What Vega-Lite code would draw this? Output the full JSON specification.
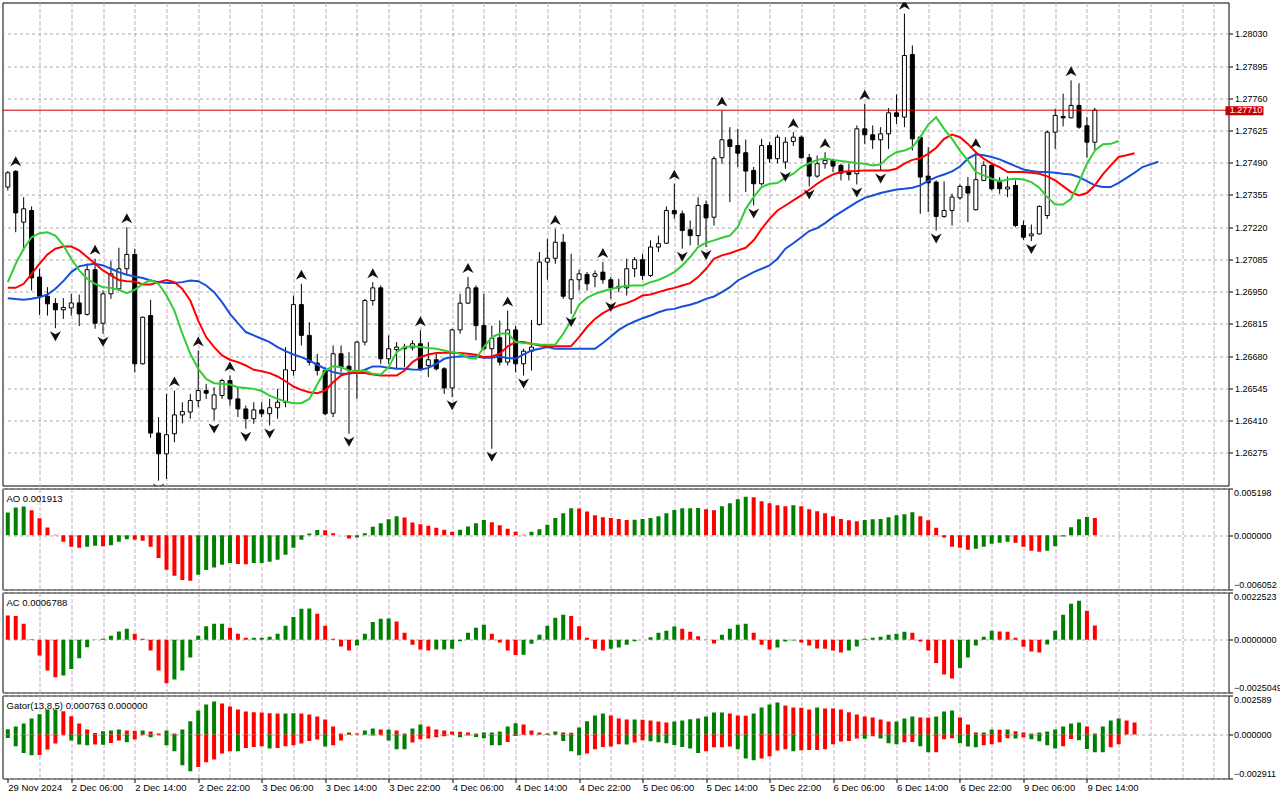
{
  "$schema": "https://vega.github.io/schema/vega-lite/v6.json",
  "background": "white",
  "padding": {"left": 1.5, "top": 1.5, "right": 0, "bottom": 0},
  "spacing": 3,
  "bounds": "flush",
  "datasets": {
    "bars": [
      {"i":0,"o":1.27388,"h":1.27455,"l":1.27374,"c":1.27448,"lips":1.26990,"teeth":1.26966,"jaw":1.26923,"ao":0.002516,"aot":"up","ac":0.001161,"act":"down","gu":0.000354,"gut":"up","gl":-0.000221,"glt":"up"},
      {"i":1,"o":1.27454,"h":1.27459,"l":1.27199,"c":1.27280,"lips":1.27067,"teeth":1.26966,"jaw":1.26919,"ao":0.003071,"aot":"up","ac":0.001129,"act":"down","gu":0.000530,"gut":"up","gl":-0.000774,"glt":"up","fu":1.27459},
      {"i":2,"o":1.27241,"h":1.27346,"l":1.27120,"c":1.27297,"lips":1.27130,"teeth":1.26983,"jaw":1.26916,"ao":0.003182,"aot":"up","ac":0.000763,"act":"down","gu":0.000729,"gut":"up","gl":-0.001216,"glt":"up"},
      {"i":3,"o":1.27290,"h":1.27307,"l":1.26955,"c":1.27008,"lips":1.27178,"teeth":1.27025,"jaw":1.26920,"ao":0.002775,"aot":"down","ac":0.000032,"act":"down","gu":0.001061,"gut":"up","gl":-0.001370,"glt":"up"},
      {"i":4,"o":1.27011,"h":1.27046,"l":1.26853,"c":1.26931,"lips":1.27195,"teeth":1.27067,"jaw":1.26927,"ao":0.001887,"aot":"down","ac":-0.000747,"act":"down","gu":0.001348,"gut":"up","gl":-0.001360,"glt":"down"},
      {"i":5,"o":1.26931,"h":1.26969,"l":1.26850,"c":1.26899,"lips":1.27199,"teeth":1.27106,"jaw":1.26938,"ao":0.000851,"aot":"down","ac":-0.001463,"act":"down","gu":0.001658,"gut":"up","gl":-0.000995,"glt":"down"},
      {"i":6,"o":1.26901,"h":1.26923,"l":1.26797,"c":1.26874,"lips":1.27185,"teeth":1.27130,"jaw":1.26962,"ao":0.000037,"aot":"down","ac":-0.001781,"act":"down","gu":0.001665,"gut":"up","gl":-0.000597,"glt":"down","fd":1.26797},
      {"i":7,"o":1.26874,"h":1.26923,"l":1.26836,"c":1.26884,"lips":1.27144,"teeth":1.27139,"jaw":1.26994,"ao":-0.000740,"aot":"down","ac":-0.001701,"act":"up","gu":0.001547,"gut":"down","gl":-0.000044,"glt":"down"},
      {"i":8,"o":1.26882,"h":1.26941,"l":1.26850,"c":1.26903,"lips":1.27088,"teeth":1.27139,"jaw":1.27032,"ao":-0.001295,"aot":"down","ac":-0.001383,"act":"up","gu":0.001216,"gut":"down","gl":-0.000398,"glt":"up"},
      {"i":9,"o":1.26903,"h":1.26938,"l":1.26806,"c":1.26857,"lips":1.27039,"teeth":1.27123,"jaw":1.27056,"ao":-0.001406,"aot":"down","ac":-0.000875,"act":"up","gu":0.000729,"gut":"down","gl":-0.000663,"glt":"up"},
      {"i":10,"o":1.26855,"h":1.27067,"l":1.26850,"c":1.27042,"lips":1.27004,"teeth":1.27095,"jaw":1.27063,"ao":-0.001295,"aot":"up","ac":-0.000350,"act":"up","gu":0.000332,"gut":"down","gl":-0.000707,"glt":"up"},
      {"i":11,"o":1.27042,"h":1.27088,"l":1.26795,"c":1.26818,"lips":1.26983,"teeth":1.27067,"jaw":1.27067,"ao":-0.001184,"aot":"up","ac":0.000020,"act":"up","gu":0.000111,"gut":"down","gl":-0.000663,"glt":"down","fu":1.27088},
      {"i":12,"o":1.26818,"h":1.26955,"l":1.26774,"c":1.26941,"lips":1.26969,"teeth":1.27039,"jaw":1.27060,"ao":-0.001221,"aot":"down","ac":0.000048,"act":"up","gu":0.000221,"gut":"up","gl":-0.000670,"glt":"up","fd":1.26774},
      {"i":13,"o":1.26941,"h":1.27078,"l":1.26920,"c":1.27025,"lips":1.26966,"teeth":1.27018,"jaw":1.27046,"ao":-0.001110,"aot":"up","ac":0.000191,"act":"up","gu":0.000265,"gut":"up","gl":-0.000553,"glt":"down"},
      {"i":14,"o":1.26962,"h":1.27134,"l":1.26955,"c":1.27046,"lips":1.26958,"teeth":1.26999,"jaw":1.27032,"ao":-0.000740,"aot":"up","ac":0.000398,"act":"up","gu":0.000332,"gut":"up","gl":-0.000398,"glt":"down"},
      {"i":15,"o":1.27046,"h":1.27220,"l":1.27022,"c":1.27106,"lips":1.26944,"teeth":1.26994,"jaw":1.27021,"ao":-0.000444,"aot":"up","ac":0.000525,"act":"up","gu":0.000265,"gut":"down","gl":-0.000508,"glt":"up","fu":1.27220},
      {"i":16,"o":1.27106,"h":1.27130,"l":1.26613,"c":1.26648,"lips":1.26958,"teeth":1.26993,"jaw":1.27014,"ao":-0.000518,"aot":"down","ac":0.000286,"act":"down","gu":0.000260,"gut":"down","gl":-0.000332,"glt":"down"},
      {"i":17,"o":1.26648,"h":1.26846,"l":1.26645,"c":1.26843,"lips":1.26983,"teeth":1.26980,"jaw":1.27007,"ao":-0.000629,"aot":"down","ac":0.000048,"act":"down","gu":0.000270,"gut":"up","gl":-0.000044,"glt":"down"},
      {"i":18,"o":1.26850,"h":1.26916,"l":1.26338,"c":1.26358,"lips":1.26999,"teeth":1.26980,"jaw":1.26997,"ao":-0.001295,"aot":"down","ac":-0.000509,"act":"down","gu":0.000199,"gut":"down","gl":-0.000177,"glt":"up"},
      {"i":19,"o":1.26358,"h":1.26425,"l":1.26159,"c":1.26271,"lips":1.26983,"teeth":1.26990,"jaw":1.26990,"ao":-0.002553,"aot":"down","ac":-0.001463,"act":"down","gu":0.000066,"gut":"down","gl":-0.000044,"glt":"down","fd":1.26159},
      {"i":20,"o":1.26271,"h":1.26522,"l":1.26166,"c":1.26351,"lips":1.26934,"teeth":1.26999,"jaw":1.26986,"ao":-0.003848,"aot":"down","ac":-0.002067,"act":"down","gu":0.000265,"gut":"up","gl":-0.000707,"glt":"up"},
      {"i":21,"o":1.26355,"h":1.26536,"l":1.26320,"c":1.26434,"lips":1.26871,"teeth":1.26990,"jaw":1.26986,"ao":-0.004514,"aot":"down","ac":-0.001892,"act":"up","gu":0.000066,"gut":"down","gl":-0.001105,"glt":"up","fu":1.26536},
      {"i":22,"o":1.26434,"h":1.26487,"l":1.26399,"c":1.26448,"lips":1.26774,"teeth":1.26962,"jaw":1.26990,"ao":-0.004995,"aot":"down","ac":-0.001463,"act":"up","gu":0.000332,"gut":"up","gl":-0.002033,"glt":"up"},
      {"i":23,"o":1.26446,"h":1.26522,"l":1.26418,"c":1.26494,"lips":1.26690,"teeth":1.26913,"jaw":1.26997,"ao":-0.005069,"aot":"down","ac":-0.000843,"act":"up","gu":0.000884,"gut":"up","gl":-0.002431,"glt":"up"},
      {"i":24,"o":1.26494,"h":1.26704,"l":1.26466,"c":1.26536,"lips":1.26627,"teeth":1.26829,"jaw":1.26994,"ao":-0.004403,"aot":"up","ac":0.000191,"act":"up","gu":0.001591,"gut":"up","gl":-0.002144,"glt":"down","fu":1.26704},
      {"i":25,"o":1.26536,"h":1.26564,"l":1.26501,"c":1.26525,"lips":1.26585,"teeth":1.26760,"jaw":1.26976,"ao":-0.003885,"aot":"up","ac":0.000652,"act":"up","gu":0.001989,"gut":"up","gl":-0.001834,"glt":"down"},
      {"i":26,"o":1.26459,"h":1.26550,"l":1.26411,"c":1.26518,"lips":1.26567,"teeth":1.26718,"jaw":1.26948,"ao":-0.003589,"aot":"up","ac":0.000763,"act":"up","gu":0.002188,"gut":"up","gl":-0.001658,"glt":"down","fd":1.26411},
      {"i":27,"o":1.26515,"h":1.26585,"l":1.26501,"c":1.26578,"lips":1.26564,"teeth":1.26683,"jaw":1.26906,"ao":-0.003293,"aot":"up","ac":0.000770,"act":"up","gu":0.002055,"gut":"down","gl":-0.001260,"glt":"down"},
      {"i":28,"o":1.26578,"h":1.26599,"l":1.26473,"c":1.26501,"lips":1.26561,"teeth":1.26665,"jaw":1.26857,"ao":-0.003108,"aot":"up","ac":0.000572,"act":"down","gu":0.001856,"gut":"down","gl":-0.001105,"glt":"down","fu":1.26599},
      {"i":29,"o":1.26501,"h":1.26550,"l":1.26425,"c":1.26459,"lips":1.26550,"teeth":1.26655,"jaw":1.26818,"ao":-0.003219,"aot":"down","ac":0.000286,"act":"down","gu":0.001658,"gut":"down","gl":-0.001110,"glt":"up"},
      {"i":30,"o":1.26459,"h":1.26473,"l":1.26376,"c":1.26418,"lips":1.26547,"teeth":1.26641,"jaw":1.26781,"ao":-0.003230,"aot":"down","ac":0.000095,"act":"down","gu":0.001525,"gut":"down","gl":-0.000884,"glt":"down","fd":1.26376},
      {"i":31,"o":1.26418,"h":1.26487,"l":1.26397,"c":1.26455,"lips":1.26543,"teeth":1.26623,"jaw":1.26767,"ao":-0.003108,"aot":"up","ac":0.000100,"act":"up","gu":0.001481,"gut":"down","gl":-0.000818,"glt":"down"},
      {"i":32,"o":1.26455,"h":1.26487,"l":1.26425,"c":1.26439,"lips":1.26534,"teeth":1.26617,"jaw":1.26753,"ao":-0.003100,"aot":"up","ac":0.000105,"act":"up","gu":0.001459,"gut":"down","gl":-0.000774,"glt":"down"},
      {"i":33,"o":1.26439,"h":1.26501,"l":1.26390,"c":1.26464,"lips":1.26515,"teeth":1.26609,"jaw":1.26739,"ao":-0.002960,"aot":"up","ac":0.000143,"act":"up","gu":0.001414,"gut":"down","gl":-0.000928,"glt":"up","fd":1.26390},
      {"i":34,"o":1.26464,"h":1.26543,"l":1.26418,"c":1.26487,"lips":1.26501,"teeth":1.26595,"jaw":1.26718,"ao":-0.002738,"aot":"up","ac":0.000286,"act":"up","gu":0.001392,"gut":"down","gl":-0.000884,"glt":"down"},
      {"i":35,"o":1.26487,"h":1.26718,"l":1.26466,"c":1.26623,"lips":1.26490,"teeth":1.26575,"jaw":1.26701,"ao":-0.002183,"aot":"up","ac":0.000668,"act":"up","gu":0.001400,"gut":"up","gl":-0.000774,"glt":"down"},
      {"i":36,"o":1.26620,"h":1.26934,"l":1.26599,"c":1.26896,"lips":1.26483,"teeth":1.26553,"jaw":1.26687,"ao":-0.001406,"aot":"up","ac":0.001081,"act":"up","gu":0.001405,"gut":"up","gl":-0.000707,"glt":"down"},
      {"i":37,"o":1.26896,"h":1.26983,"l":1.26725,"c":1.26767,"lips":1.26483,"teeth":1.26539,"jaw":1.26676,"ao":-0.000518,"aot":"up","ac":0.001479,"act":"up","gu":0.001395,"gut":"down","gl":-0.000597,"glt":"down","fu":1.26983},
      {"i":38,"o":1.26767,"h":1.26822,"l":1.26641,"c":1.26655,"lips":1.26501,"teeth":1.26529,"jaw":1.26662,"ao":0.000185,"aot":"up","ac":0.001490,"act":"up","gu":0.001326,"gut":"down","gl":-0.000420,"glt":"down"},
      {"i":39,"o":1.26651,"h":1.26690,"l":1.26599,"c":1.26620,"lips":1.26561,"teeth":1.26525,"jaw":1.26644,"ao":0.000570,"aot":"up","ac":0.001240,"act":"down","gu":0.001193,"gut":"down","gl":-0.000332,"glt":"down"},
      {"i":40,"o":1.26620,"h":1.26634,"l":1.26432,"c":1.26439,"lips":1.26620,"teeth":1.26536,"jaw":1.26627,"ao":0.000540,"aot":"down","ac":0.000668,"act":"down","gu":0.000995,"gut":"down","gl":-0.000796,"glt":"up"},
      {"i":41,"o":1.26441,"h":1.26725,"l":1.26425,"c":1.26690,"lips":1.26638,"teeth":1.26571,"jaw":1.26613,"ao":0.000222,"aot":"down","ac":0.000048,"act":"down","gu":0.000530,"gut":"down","gl":-0.000707,"glt":"down"},
      {"i":42,"o":1.26690,"h":1.26725,"l":1.26613,"c":1.26634,"lips":1.26634,"teeth":1.26599,"jaw":1.26606,"ao":-0.000020,"aot":"down","ac":-0.000318,"act":"down","gu":0.000066,"gut":"down","gl":-0.000398,"glt":"down"},
      {"i":43,"o":1.26638,"h":1.26697,"l":1.26355,"c":1.26620,"lips":1.26620,"teeth":1.26609,"jaw":1.26606,"ao":-0.000370,"aot":"down","ac":-0.000509,"act":"down","gu":0.000133,"gut":"up","gl":-0.000022,"glt":"down","fd":1.26355},
      {"i":44,"o":1.26620,"h":1.26743,"l":1.26501,"c":1.26739,"lips":1.26617,"teeth":1.26609,"jaw":1.26613,"ao":-0.000259,"aot":"up","ac":-0.000270,"act":"up","gu":0.000066,"gut":"down","gl":-0.000010,"glt":"down"},
      {"i":45,"o":1.26739,"h":1.26920,"l":1.26725,"c":1.26913,"lips":1.26620,"teeth":1.26609,"jaw":1.26623,"ao":0.000222,"aot":"up","ac":0.000286,"act":"up","gu":0.000265,"gut":"up","gl":-0.000022,"glt":"up"},
      {"i":46,"o":1.26913,"h":1.26990,"l":1.26892,"c":1.26966,"lips":1.26606,"teeth":1.26603,"jaw":1.26637,"ao":0.000925,"aot":"up","ac":0.000843,"act":"up","gu":0.000398,"gut":"up","gl":-0.000066,"glt":"up","fu":1.26990},
      {"i":47,"o":1.26966,"h":1.26976,"l":1.26648,"c":1.26669,"lips":1.26603,"teeth":1.26599,"jaw":1.26637,"ao":0.001332,"aot":"up","ac":0.001002,"act":"up","gu":0.000332,"gut":"down","gl":-0.000044,"glt":"down"},
      {"i":48,"o":1.26669,"h":1.26767,"l":1.26648,"c":1.26711,"lips":1.26634,"teeth":1.26599,"jaw":1.26631,"ao":0.001776,"aot":"up","ac":0.001010,"act":"up","gu":0.000340,"gut":"up","gl":-0.000398,"glt":"up"},
      {"i":49,"o":1.26707,"h":1.26739,"l":1.26627,"c":1.26718,"lips":1.26697,"teeth":1.26599,"jaw":1.26627,"ao":0.002109,"aot":"up","ac":0.000875,"act":"down","gu":0.000265,"gut":"down","gl":-0.000972,"glt":"up"},
      {"i":50,"o":1.26718,"h":1.26732,"l":1.26634,"c":1.26711,"lips":1.26718,"teeth":1.26620,"jaw":1.26627,"ao":0.001961,"aot":"down","ac":0.000334,"act":"down","gu":0.000066,"gut":"down","gl":-0.000980,"glt":"up"},
      {"i":51,"o":1.26715,"h":1.26746,"l":1.26704,"c":1.26732,"lips":1.26721,"teeth":1.26655,"jaw":1.26624,"ao":0.001406,"aot":"down","ac":-0.000239,"act":"down","gu":0.000398,"gut":"up","gl":-0.000530,"glt":"down"},
      {"i":52,"o":1.26732,"h":1.26788,"l":1.26620,"c":1.26627,"lips":1.26718,"teeth":1.26676,"jaw":1.26623,"ao":0.001221,"aot":"down","ac":-0.000461,"act":"down","gu":0.000663,"gut":"up","gl":-0.000309,"glt":"down","fu":1.26788},
      {"i":53,"o":1.26641,"h":1.26739,"l":1.26592,"c":1.26665,"lips":1.26714,"teeth":1.26687,"jaw":1.26631,"ao":0.001036,"aot":"down","ac":-0.000509,"act":"down","gu":0.000530,"gut":"down","gl":-0.000265,"glt":"down"},
      {"i":54,"o":1.26665,"h":1.26690,"l":1.26620,"c":1.26627,"lips":1.26711,"teeth":1.26693,"jaw":1.26648,"ao":0.000814,"aot":"down","ac":-0.000461,"act":"up","gu":0.000332,"gut":"down","gl":-0.000177,"glt":"down"},
      {"i":55,"o":1.26627,"h":1.26634,"l":1.26522,"c":1.26547,"lips":1.26704,"teeth":1.26694,"jaw":1.26669,"ao":0.000592,"aot":"down","ac":-0.000455,"act":"up","gu":0.000265,"gut":"down","gl":-0.000110,"glt":"down"},
      {"i":56,"o":1.26547,"h":1.26795,"l":1.26508,"c":1.26790,"lips":1.26697,"teeth":1.26694,"jaw":1.26676,"ao":0.000370,"aot":"down","ac":-0.000429,"act":"up","gu":0.000199,"gut":"down","gl":-0.000010,"glt":"down","fd":1.26508},
      {"i":57,"o":1.26790,"h":1.26941,"l":1.26774,"c":1.26902,"lips":1.26690,"teeth":1.26693,"jaw":1.26679,"ao":0.000592,"aot":"up","ac":-0.000064,"act":"up","gu":0.000190,"gut":"down","gl":-0.000177,"glt":"up"},
      {"i":58,"o":1.26902,"h":1.27011,"l":1.26899,"c":1.26966,"lips":1.26673,"teeth":1.26690,"jaw":1.26679,"ao":0.000962,"aot":"up","ac":0.000334,"act":"up","gu":0.000133,"gut":"down","gl":-0.000066,"glt":"down","fu":1.27011},
      {"i":59,"o":1.26966,"h":1.26976,"l":1.26746,"c":1.26808,"lips":1.26669,"teeth":1.26686,"jaw":1.26679,"ao":0.001332,"aot":"up","ac":0.000572,"act":"up","gu":0.000066,"gut":"down","gl":-0.000155,"glt":"up"},
      {"i":60,"o":1.26808,"h":1.26941,"l":1.26704,"c":1.26711,"lips":1.26718,"teeth":1.26676,"jaw":1.26673,"ao":0.001702,"aot":"up","ac":0.000716,"act":"up","gu":0.000133,"gut":"up","gl":-0.000243,"glt":"up"},
      {"i":61,"o":1.26711,"h":1.26808,"l":1.26292,"c":1.26755,"lips":1.26760,"teeth":1.26679,"jaw":1.26673,"ao":0.001443,"aot":"down","ac":0.000286,"act":"down","gu":0.000140,"gut":"up","gl":-0.000707,"glt":"up","fd":1.26292},
      {"i":62,"o":1.26757,"h":1.26829,"l":1.26641,"c":1.26655,"lips":1.26774,"teeth":1.26690,"jaw":1.26679,"ao":0.001110,"aot":"down","ac":-0.000127,"act":"down","gu":0.000199,"gut":"up","gl":-0.000715,"glt":"up"},
      {"i":63,"o":1.26655,"h":1.26871,"l":1.26641,"c":1.26790,"lips":1.26776,"teeth":1.26721,"jaw":1.26672,"ao":0.000703,"aot":"down","ac":-0.000509,"act":"down","gu":0.000530,"gut":"up","gl":-0.000486,"glt":"down","fu":1.26871},
      {"i":64,"o":1.26790,"h":1.26808,"l":1.26613,"c":1.26648,"lips":1.26739,"teeth":1.26739,"jaw":1.26669,"ao":0.000370,"aot":"down","ac":-0.000716,"act":"down","gu":0.000751,"gut":"up","gl":-0.000088,"glt":"down"},
      {"i":65,"o":1.26648,"h":1.26711,"l":1.26599,"c":1.26701,"lips":1.26735,"teeth":1.26739,"jaw":1.26687,"ao":0.000037,"aot":"down","ac":-0.000710,"act":"up","gu":0.000663,"gut":"down","gl":-0.000022,"glt":"down","fd":1.26599},
      {"i":66,"o":1.26701,"h":1.26832,"l":1.26620,"c":1.26718,"lips":1.26732,"teeth":1.26732,"jaw":1.26704,"ao":0.000370,"aot":"up","ac":-0.000191,"act":"up","gu":0.000265,"gut":"down","gl":-0.000005,"glt":"down"},
      {"i":67,"o":1.26813,"h":1.27116,"l":1.26808,"c":1.27074,"lips":1.26729,"teeth":1.26725,"jaw":1.26711,"ao":0.000666,"aot":"up","ac":0.000239,"act":"up","gu":0.000133,"gut":"down","gl":-0.000008,"glt":"up"},
      {"i":68,"o":1.27074,"h":1.27171,"l":1.27000,"c":1.27090,"lips":1.26728,"teeth":1.26722,"jaw":1.26718,"ao":0.001147,"aot":"up","ac":0.000668,"act":"up","gu":0.000066,"gut":"down","gl":-0.000022,"glt":"up"},
      {"i":69,"o":1.27090,"h":1.27213,"l":1.27067,"c":1.27157,"lips":1.26728,"teeth":1.26721,"jaw":1.26711,"ao":0.001924,"aot":"up","ac":0.001049,"act":"up","gu":0.000199,"gut":"up","gl":-0.000010,"glt":"down","fu":1.27213},
      {"i":70,"o":1.27157,"h":1.27192,"l":1.26920,"c":1.26931,"lips":1.26774,"teeth":1.26721,"jaw":1.26711,"ao":0.002442,"aot":"up","ac":0.001193,"act":"up","gu":0.000133,"gut":"down","gl":-0.000420,"glt":"up"},
      {"i":71,"o":1.26920,"h":1.27109,"l":1.26857,"c":1.27000,"lips":1.26829,"teeth":1.26722,"jaw":1.26711,"ao":0.002997,"aot":"up","ac":0.001129,"act":"down","gu":0.000125,"gut":"down","gl":-0.001105,"glt":"up","fd":1.26857},
      {"i":72,"o":1.27000,"h":1.27042,"l":1.26955,"c":1.27025,"lips":1.26896,"teeth":1.26760,"jaw":1.26711,"ao":0.002970,"aot":"down","ac":0.000652,"act":"down","gu":0.000464,"gut":"up","gl":-0.001370,"glt":"up"},
      {"i":73,"o":1.27022,"h":1.27032,"l":1.26955,"c":1.26983,"lips":1.26924,"teeth":1.26802,"jaw":1.26711,"ao":0.002627,"aot":"down","ac":0.000095,"act":"down","gu":0.000884,"gut":"up","gl":-0.001260,"glt":"down"},
      {"i":74,"o":1.27014,"h":1.27039,"l":1.26969,"c":1.27025,"lips":1.26941,"teeth":1.26836,"jaw":1.26711,"ao":0.002220,"aot":"down","ac":-0.000429,"act":"down","gu":0.001260,"gut":"up","gl":-0.000972,"glt":"down"},
      {"i":75,"o":1.27032,"h":1.27074,"l":1.26983,"c":1.27000,"lips":1.26952,"teeth":1.26860,"jaw":1.26735,"ao":0.001998,"aot":"down","ac":-0.000509,"act":"down","gu":0.001392,"gut":"up","gl":-0.000818,"glt":"down","fu":1.27074},
      {"i":76,"o":1.27000,"h":1.27011,"l":1.26920,"c":1.26966,"lips":1.26961,"teeth":1.26878,"jaw":1.26762,"ao":0.001924,"aot":"down","ac":-0.000429,"act":"up","gu":0.001260,"gut":"down","gl":-0.000796,"glt":"down","fd":1.26920},
      {"i":77,"o":1.26972,"h":1.27004,"l":1.26948,"c":1.26966,"lips":1.26969,"teeth":1.26892,"jaw":1.26790,"ao":0.001813,"aot":"down","ac":-0.000366,"act":"up","gu":0.001061,"gut":"down","gl":-0.000641,"glt":"down"},
      {"i":78,"o":1.26966,"h":1.27088,"l":1.26934,"c":1.27046,"lips":1.26975,"teeth":1.26902,"jaw":1.26810,"ao":0.001702,"aot":"down","ac":-0.000239,"act":"up","gu":0.000995,"gut":"down","gl":-0.000650,"glt":"up"},
      {"i":79,"o":1.27046,"h":1.27095,"l":1.27011,"c":1.27084,"lips":1.26976,"teeth":1.26916,"jaw":1.26825,"ao":0.001720,"aot":"up","ac":-0.000064,"act":"up","gu":0.001000,"gut":"up","gl":-0.000530,"glt":"down"},
      {"i":80,"o":1.27084,"h":1.27109,"l":1.27000,"c":1.27018,"lips":1.26976,"teeth":1.26934,"jaw":1.26839,"ao":0.001813,"aot":"up","ac":0.000010,"act":"up","gu":0.000990,"gut":"down","gl":-0.000376,"glt":"down"},
      {"i":81,"o":1.27018,"h":1.27165,"l":1.27011,"c":1.27137,"lips":1.26990,"teeth":1.26938,"jaw":1.26850,"ao":0.001924,"aot":"up","ac":0.000127,"act":"up","gu":0.000928,"gut":"down","gl":-0.000442,"glt":"up"},
      {"i":82,"o":1.27137,"h":1.27185,"l":1.27116,"c":1.27151,"lips":1.26999,"teeth":1.26948,"jaw":1.26864,"ao":0.002109,"aot":"up","ac":0.000334,"act":"up","gu":0.000862,"gut":"down","gl":-0.000508,"glt":"up"},
      {"i":83,"o":1.27153,"h":1.27307,"l":1.27151,"c":1.27290,"lips":1.27014,"teeth":1.26958,"jaw":1.26874,"ao":0.002442,"aot":"up","ac":0.000429,"act":"up","gu":0.000796,"gut":"down","gl":-0.000575,"glt":"up"},
      {"i":84,"o":1.27290,"h":1.27402,"l":1.27255,"c":1.27276,"lips":1.27032,"teeth":1.26966,"jaw":1.26878,"ao":0.002812,"aot":"up","ac":0.000636,"act":"up","gu":0.000862,"gut":"up","gl":-0.000685,"glt":"up","fu":1.27402},
      {"i":85,"o":1.27276,"h":1.27290,"l":1.27130,"c":1.27206,"lips":1.27060,"teeth":1.26976,"jaw":1.26888,"ao":0.002997,"aot":"up","ac":0.000525,"act":"down","gu":0.000928,"gut":"up","gl":-0.000818,"glt":"up","fd":1.27130},
      {"i":86,"o":1.27209,"h":1.27248,"l":1.27144,"c":1.27185,"lips":1.27095,"teeth":1.26986,"jaw":1.26895,"ao":0.003010,"aot":"up","ac":0.000382,"act":"down","gu":0.001017,"gut":"up","gl":-0.000928,"glt":"up"},
      {"i":87,"o":1.27185,"h":1.27346,"l":1.27144,"c":1.27311,"lips":1.27137,"teeth":1.27011,"jaw":1.26906,"ao":0.003020,"aot":"up","ac":0.000175,"act":"down","gu":0.001061,"gut":"up","gl":-0.001216,"glt":"up"},
      {"i":88,"o":1.27315,"h":1.27332,"l":1.27137,"c":1.27259,"lips":1.27155,"teeth":1.27046,"jaw":1.26920,"ao":0.002886,"aot":"down","ac":-0.000010,"act":"down","gu":0.001193,"gut":"up","gl":-0.001105,"glt":"down","fd":1.27137},
      {"i":89,"o":1.27262,"h":1.27517,"l":1.27227,"c":1.27507,"lips":1.27165,"teeth":1.27088,"jaw":1.26930,"ao":0.002775,"aot":"down","ac":-0.000175,"act":"down","gu":0.001459,"gut":"up","gl":-0.000840,"glt":"down"},
      {"i":90,"o":1.27511,"h":1.27709,"l":1.27486,"c":1.27586,"lips":1.27176,"teeth":1.27102,"jaw":1.26948,"ao":0.003219,"aot":"up","ac":0.000239,"act":"up","gu":0.001465,"gut":"up","gl":-0.000835,"glt":"down","fu":1.27709},
      {"i":91,"o":1.27586,"h":1.27639,"l":1.27325,"c":1.27558,"lips":1.27185,"teeth":1.27111,"jaw":1.26969,"ao":0.003552,"aot":"up","ac":0.000525,"act":"up","gu":0.001392,"gut":"down","gl":-0.000796,"glt":"down"},
      {"i":92,"o":1.27562,"h":1.27632,"l":1.27472,"c":1.27530,"lips":1.27220,"teeth":1.27123,"jaw":1.26997,"ao":0.003996,"aot":"up","ac":0.000716,"act":"up","gu":0.001260,"gut":"down","gl":-0.000972,"glt":"up"},
      {"i":93,"o":1.27532,"h":1.27587,"l":1.27367,"c":1.27455,"lips":1.27297,"teeth":1.27134,"jaw":1.27014,"ao":0.004292,"aot":"up","ac":0.000763,"act":"up","gu":0.001255,"gut":"down","gl":-0.001591,"glt":"up"},
      {"i":94,"o":1.27458,"h":1.27472,"l":1.27311,"c":1.27402,"lips":1.27346,"teeth":1.27165,"jaw":1.27032,"ao":0.004218,"aot":"down","ac":0.000334,"act":"down","gu":0.001392,"gut":"up","gl":-0.001702,"glt":"up","fd":1.27311},
      {"i":95,"o":1.27402,"h":1.27590,"l":1.27395,"c":1.27562,"lips":1.27388,"teeth":1.27213,"jaw":1.27046,"ao":0.003774,"aot":"down","ac":-0.000239,"act":"down","gu":0.001790,"gut":"up","gl":-0.001591,"glt":"down"},
      {"i":96,"o":1.27562,"h":1.27576,"l":1.27490,"c":1.27507,"lips":1.27402,"teeth":1.27255,"jaw":1.27060,"ao":0.003552,"aot":"down","ac":-0.000461,"act":"down","gu":0.001989,"gut":"up","gl":-0.001437,"glt":"down"},
      {"i":97,"o":1.27507,"h":1.27607,"l":1.27488,"c":1.27597,"lips":1.27405,"teeth":1.27290,"jaw":1.27088,"ao":0.003330,"aot":"down","ac":-0.000366,"act":"up","gu":0.002122,"gut":"up","gl":-0.001061,"glt":"down"},
      {"i":98,"o":1.27493,"h":1.27597,"l":1.27465,"c":1.27576,"lips":1.27427,"teeth":1.27311,"jaw":1.27130,"ao":0.003219,"aot":"down","ac":-0.000080,"act":"up","gu":0.001923,"gut":"down","gl":-0.000972,"glt":"down","fd":1.27465},
      {"i":99,"o":1.27579,"h":1.27618,"l":1.27560,"c":1.27597,"lips":1.27444,"teeth":1.27332,"jaw":1.27153,"ao":0.003330,"aot":"up","ac":-0.000032,"act":"up","gu":0.001790,"gut":"down","gl":-0.001105,"glt":"up","fu":1.27618},
      {"i":100,"o":1.27597,"h":1.27604,"l":1.27507,"c":1.27511,"lips":1.27472,"teeth":1.27353,"jaw":1.27178,"ao":0.003219,"aot":"down","ac":-0.000127,"act":"down","gu":0.001785,"gut":"down","gl":-0.001039,"glt":"down"},
      {"i":101,"o":1.27511,"h":1.27527,"l":1.27391,"c":1.27434,"lips":1.27488,"teeth":1.27377,"jaw":1.27204,"ao":0.002886,"aot":"down","ac":-0.000270,"act":"down","gu":0.001658,"gut":"down","gl":-0.001030,"glt":"down","fd":1.27391},
      {"i":102,"o":1.27434,"h":1.27520,"l":1.27427,"c":1.27486,"lips":1.27502,"teeth":1.27402,"jaw":1.27216,"ao":0.002664,"aot":"down","ac":-0.000413,"act":"down","gu":0.001790,"gut":"up","gl":-0.001017,"glt":"down"},
      {"i":103,"o":1.27486,"h":1.27534,"l":1.27465,"c":1.27500,"lips":1.27507,"teeth":1.27423,"jaw":1.27237,"ao":0.002442,"aot":"down","ac":-0.000420,"act":"down","gu":0.001724,"gut":"down","gl":-0.000972,"glt":"down","fu":1.27534},
      {"i":104,"o":1.27500,"h":1.27507,"l":1.27451,"c":1.27476,"lips":1.27502,"teeth":1.27441,"jaw":1.27262,"ao":0.002109,"aot":"down","ac":-0.000509,"act":"down","gu":0.001720,"gut":"down","gl":-0.000641,"glt":"down"},
      {"i":105,"o":1.27479,"h":1.27486,"l":1.27416,"c":1.27446,"lips":1.27497,"teeth":1.27451,"jaw":1.27283,"ao":0.001813,"aot":"down","ac":-0.000604,"act":"down","gu":0.001658,"gut":"down","gl":-0.000464,"glt":"down"},
      {"i":106,"o":1.27451,"h":1.27486,"l":1.27416,"c":1.27441,"lips":1.27493,"teeth":1.27454,"jaw":1.27304,"ao":0.001665,"aot":"down","ac":-0.000509,"act":"up","gu":0.001481,"gut":"down","gl":-0.000420,"glt":"down"},
      {"i":107,"o":1.27444,"h":1.27646,"l":1.27399,"c":1.27632,"lips":1.27488,"teeth":1.27455,"jaw":1.27325,"ao":0.001554,"aot":"down","ac":-0.000318,"act":"up","gu":0.001326,"gut":"down","gl":-0.000265,"glt":"down","fd":1.27399},
      {"i":108,"o":1.27632,"h":1.27737,"l":1.27569,"c":1.27607,"lips":1.27486,"teeth":1.27458,"jaw":1.27343,"ao":0.001702,"aot":"up","ac":0.000048,"act":"up","gu":0.001193,"gut":"down","gl":-0.000270,"glt":"up","fu":1.27737},
      {"i":109,"o":1.27607,"h":1.27646,"l":1.27548,"c":1.27586,"lips":1.27479,"teeth":1.27458,"jaw":1.27353,"ao":0.001776,"aot":"up","ac":0.000095,"act":"up","gu":0.001127,"gut":"down","gl":-0.000110,"glt":"down"},
      {"i":110,"o":1.27586,"h":1.27639,"l":1.27458,"c":1.27611,"lips":1.27483,"teeth":1.27458,"jaw":1.27363,"ao":0.001790,"aot":"up","ac":0.000143,"act":"up","gu":0.000995,"gut":"down","gl":-0.000265,"glt":"up","fd":1.27458},
      {"i":111,"o":1.27611,"h":1.27719,"l":1.27548,"c":1.27699,"lips":1.27514,"teeth":1.27458,"jaw":1.27371,"ao":0.001998,"aot":"up","ac":0.000239,"act":"up","gu":0.000862,"gut":"down","gl":-0.000575,"glt":"up"},
      {"i":112,"o":1.27699,"h":1.27775,"l":1.27653,"c":1.27684,"lips":1.27534,"teeth":1.27465,"jaw":1.27378,"ao":0.002220,"aot":"up","ac":0.000286,"act":"up","gu":0.000870,"gut":"up","gl":-0.000641,"glt":"up"},
      {"i":113,"o":1.27681,"h":1.28114,"l":1.27639,"c":1.27939,"lips":1.27541,"teeth":1.27486,"jaw":1.27381,"ao":0.002331,"aot":"up","ac":0.000382,"act":"up","gu":0.001061,"gut":"up","gl":-0.000508,"glt":"down","fu":1.28114},
      {"i":114,"o":1.27943,"h":1.27981,"l":1.27541,"c":1.27590,"lips":1.27555,"teeth":1.27502,"jaw":1.27385,"ao":0.002553,"aot":"up","ac":0.000334,"act":"down","gu":0.001193,"gut":"up","gl":-0.000500,"glt":"down"},
      {"i":115,"o":1.27597,"h":1.27604,"l":1.27276,"c":1.27430,"lips":1.27597,"teeth":1.27509,"jaw":1.27395,"ao":0.002109,"aot":"down","ac":-0.000080,"act":"down","gu":0.001127,"gut":"down","gl":-0.000774,"glt":"up"},
      {"i":116,"o":1.27434,"h":1.27555,"l":1.27283,"c":1.27406,"lips":1.27650,"teeth":1.27527,"jaw":1.27414,"ao":0.001665,"aot":"down","ac":-0.000509,"act":"down","gu":0.001120,"gut":"down","gl":-0.001171,"glt":"up"},
      {"i":117,"o":1.27409,"h":1.27416,"l":1.27206,"c":1.27265,"lips":1.27680,"teeth":1.27553,"jaw":1.27430,"ao":0.000814,"aot":"down","ac":-0.001097,"act":"down","gu":0.001193,"gut":"up","gl":-0.001165,"glt":"down","fd":1.27206},
      {"i":118,"o":1.27265,"h":1.27412,"l":1.27259,"c":1.27290,"lips":1.27632,"teeth":1.27590,"jaw":1.27441,"ao":-0.000259,"aot":"down","ac":-0.001654,"act":"down","gu":0.001525,"gut":"up","gl":-0.000309,"glt":"down"},
      {"i":119,"o":1.27290,"h":1.27360,"l":1.27227,"c":1.27346,"lips":1.27590,"teeth":1.27608,"jaw":1.27454,"ao":-0.001295,"aot":"down","ac":-0.001844,"act":"down","gu":0.001591,"gut":"up","gl":-0.000243,"glt":"down"},
      {"i":120,"o":1.27343,"h":1.27399,"l":1.27335,"c":1.27391,"lips":1.27541,"teeth":1.27597,"jaw":1.27474,"ao":-0.001406,"aot":"down","ac":-0.001336,"act":"up","gu":0.001127,"gut":"down","gl":-0.000575,"glt":"up"},
      {"i":121,"o":1.27391,"h":1.27430,"l":1.27241,"c":1.27363,"lips":1.27500,"teeth":1.27569,"jaw":1.27507,"ao":-0.001628,"aot":"down","ac":-0.000843,"act":"up","gu":0.000663,"gut":"down","gl":-0.000796,"glt":"up"},
      {"i":122,"o":1.27293,"h":1.27534,"l":1.27290,"c":1.27419,"lips":1.27451,"teeth":1.27534,"jaw":1.27525,"ao":-0.001517,"aot":"up","ac":-0.000270,"act":"up","gu":0.000133,"gut":"down","gl":-0.000840,"glt":"up","fu":1.27534},
      {"i":123,"o":1.27416,"h":1.27497,"l":1.27413,"c":1.27479,"lips":1.27437,"teeth":1.27507,"jaw":1.27521,"ao":-0.001295,"aot":"up","ac":0.000143,"act":"up","gu":0.000140,"gut":"up","gl":-0.000707,"glt":"down"},
      {"i":124,"o":1.27479,"h":1.27488,"l":1.27374,"c":1.27381,"lips":1.27423,"teeth":1.27486,"jaw":1.27514,"ao":-0.000962,"aot":"up","ac":0.000429,"act":"up","gu":0.000332,"gut":"up","gl":-0.000641,"glt":"down"},
      {"i":125,"o":1.27416,"h":1.27430,"l":1.27360,"c":1.27381,"lips":1.27412,"teeth":1.27472,"jaw":1.27504,"ao":-0.000851,"aot":"up","ac":0.000398,"act":"down","gu":0.000325,"gut":"down","gl":-0.000508,"glt":"down"},
      {"i":126,"o":1.27380,"h":1.27432,"l":1.27346,"c":1.27388,"lips":1.27420,"teeth":1.27451,"jaw":1.27490,"ao":-0.000740,"aot":"up","ac":0.000390,"act":"down","gu":0.000335,"gut":"up","gl":-0.000243,"glt":"down"},
      {"i":127,"o":1.27395,"h":1.27416,"l":1.27220,"c":1.27227,"lips":1.27423,"teeth":1.27451,"jaw":1.27476,"ao":-0.000851,"aot":"down","ac":0.000095,"act":"down","gu":0.000221,"gut":"down","gl":-0.000265,"glt":"up"},
      {"i":128,"o":1.27227,"h":1.27248,"l":1.27167,"c":1.27178,"lips":1.27420,"teeth":1.27451,"jaw":1.27462,"ao":-0.001295,"aot":"down","ac":-0.000334,"act":"down","gu":0.000133,"gut":"down","gl":-0.000199,"glt":"down"},
      {"i":129,"o":1.27184,"h":1.27231,"l":1.27162,"c":1.27192,"lips":1.27409,"teeth":1.27448,"jaw":1.27455,"ao":-0.001739,"aot":"down","ac":-0.000557,"act":"down","gu":0.000066,"gut":"down","gl":-0.000309,"glt":"up","fd":1.27162},
      {"i":130,"o":1.27192,"h":1.27311,"l":1.27189,"c":1.27307,"lips":1.27385,"teeth":1.27444,"jaw":1.27451,"ao":-0.001850,"aot":"down","ac":-0.000604,"act":"down","gu":0.000133,"gut":"up","gl":-0.000442,"glt":"up"},
      {"i":131,"o":1.27269,"h":1.27625,"l":1.27255,"c":1.27618,"lips":1.27346,"teeth":1.27433,"jaw":1.27451,"ao":-0.001739,"aot":"up","ac":-0.000223,"act":"up","gu":0.000199,"gut":"up","gl":-0.000707,"glt":"up"},
      {"i":132,"o":1.27618,"h":1.27716,"l":1.27548,"c":1.27688,"lips":1.27315,"teeth":1.27416,"jaw":1.27448,"ao":-0.001221,"aot":"up","ac":0.000429,"act":"up","gu":0.000332,"gut":"up","gl":-0.000928,"glt":"up"},
      {"i":133,"o":1.27684,"h":1.27779,"l":1.27642,"c":1.27678,"lips":1.27315,"teeth":1.27392,"jaw":1.27444,"ao":-0.000148,"aot":"up","ac":0.001193,"act":"up","gu":0.000530,"gut":"up","gl":-0.000774,"glt":"down"},
      {"i":134,"o":1.27678,"h":1.27835,"l":1.27677,"c":1.27730,"lips":1.27339,"teeth":1.27367,"jaw":1.27441,"ao":0.000888,"aot":"up","ac":0.001717,"act":"up","gu":0.000729,"gut":"up","gl":-0.000287,"glt":"down","fu":1.27835},
      {"i":135,"o":1.27730,"h":1.27823,"l":1.27632,"c":1.27639,"lips":1.27409,"teeth":1.27353,"jaw":1.27430,"ao":0.001776,"aot":"up","ac":0.001860,"act":"up","gu":0.000796,"gut":"up","gl":-0.000376,"glt":"up"},
      {"i":136,"o":1.27645,"h":1.27681,"l":1.27511,"c":1.27576,"lips":1.27486,"teeth":1.27363,"jaw":1.27413,"ao":0.002020,"aot":"up","ac":0.001383,"act":"down","gu":0.000530,"gut":"down","gl":-0.000950,"glt":"up"},
      {"i":137,"o":1.27576,"h":1.27720,"l":1.27539,"c":1.27710,"lips":1.27541,"teeth":1.27395,"jaw":1.27395,"ao":0.001913,"aot":"down","ac":0.000679,"act":"down","gu":0.000066,"gut":"down","gl":-0.001171,"glt":"up"},
      {"i":138,"lips":1.27567,"teeth":1.27441,"jaw":1.27388,"gu":0.000530,"gut":"up","gl":-0.001178,"glt":"up"},
      {"i":139,"lips":1.27569,"teeth":1.27479,"jaw":1.27388,"gu":0.000928,"gut":"up","gl":-0.000840,"glt":"down"},
      {"i":140,"lips":1.27581,"teeth":1.27514,"jaw":1.27406,"gu":0.001061,"gut":"up","gl":-0.000641,"glt":"down"},
      {"i":141,"teeth":1.27521,"jaw":1.27427,"gu":0.000928,"gut":"down"},
      {"i":142,"teeth":1.27530,"jaw":1.27448,"gu":0.000796,"gut":"down"},
      {"i":143,"jaw":1.27472},
      {"i":144,"jaw":1.27483},
      {"i":145,"jaw":1.27494}
    ]
  },
  "vconcat": [
    {
      "width": 1226,
      "height": 483,
      "data": {"name": "bars"},
      "layer": [
        {
          "transform": [{"filter": "isValid(datum.o)"}],
          "mark": {"type": "rule", "color": "black", "strokeWidth": 1, "clip": true},
          "encoding": {
            "x": {"field": "i", "type": "quantitative", "title": null,
                  "scale": {"domain": [-0.0375, 153.2125], "nice": false, "zero": false},
                  "axis": {"values": [4,8,12,16,20,24,28,32,36,40,44,48,52,56,60,64,68,72,76,80,84,88,92,96,100,104,108,112,116,120,124,128,132,136,140,144,148,152], "tickCount": 60, "grid": true, "labels": false, "ticks": false, "domain": false}},
            "y": {"field": "l", "type": "quantitative", "title": null,
                  "scale": {"domain": [1.261384, 1.28161], "nice": false, "zero": false},
                  "axis": {"orient": "right", "values": [1.2803, 1.27895, 1.2776, 1.27625, 1.2749, 1.27355, 1.2722, 1.27085, 1.2695, 1.26815, 1.2668, 1.26545, 1.2641, 1.26275], "tickCount": 30, "format": ".5f", "grid": true, "tickSize": 4, "labelPadding": 2, "labelOverlap": false, "labelFlush": false, "domain": false}},
            "y2": {"field": "h"}
          }
        },
        {
          "transform": [{"filter": "isValid(datum.o)"}],
          "mark": {"type": "bar", "orient": "vertical", "size": 4, "stroke": "black", "strokeWidth": 1, "clip": true},
          "encoding": {
            "x": {"field": "i", "type": "quantitative", "title": null},
            "y": {"field": "o", "type": "quantitative", "title": null},
            "y2": {"field": "c"},
            "fill": {"condition": {"test": "datum.c >= datum.o", "value": "white"}, "value": "black"}
          }
        },
        {
          "transform": [{"filter": "isValid(datum.jaw)"}],
          "mark": {"type": "line", "color": "#1450d8", "strokeWidth": 2, "clip": true},
          "encoding": {
            "x": {"field": "i", "type": "quantitative", "title": null},
            "y": {"field": "jaw", "type": "quantitative", "title": null}
          }
        },
        {
          "transform": [{"filter": "isValid(datum.teeth)"}],
          "mark": {"type": "line", "color": "#ff0000", "strokeWidth": 2, "clip": true},
          "encoding": {
            "x": {"field": "i", "type": "quantitative", "title": null},
            "y": {"field": "teeth", "type": "quantitative", "title": null}
          }
        },
        {
          "transform": [{"filter": "isValid(datum.lips)"}],
          "mark": {"type": "line", "color": "#32cd32", "strokeWidth": 2, "clip": true},
          "encoding": {
            "x": {"field": "i", "type": "quantitative", "title": null},
            "y": {"field": "lips", "type": "quantitative", "title": null}
          }
        },
        {
          "transform": [{"filter": "isValid(datum.fu)"}],
          "mark": {"type": "point", "shape": "M0,-2.8L1.1,-0.8L0,-1.4L-1.1,-0.8Z", "filled": true, "size": 100, "color": "#111111", "opacity": 1, "clip": true},
          "encoding": {
            "x": {"field": "i", "type": "quantitative", "title": null},
            "y": {"field": "fu", "type": "quantitative", "title": null}
          }
        },
        {
          "transform": [{"filter": "isValid(datum.fd)"}],
          "mark": {"type": "point", "shape": "M0,2.6L1.1,0.6L0,1.2L-1.1,0.6Z", "filled": true, "size": 100, "color": "#111111", "opacity": 1, "clip": true},
          "encoding": {
            "x": {"field": "i", "type": "quantitative", "title": null},
            "y": {"field": "fd", "type": "quantitative", "title": null}
          }
        },
        {
          "data": {"values": [{"price": 1.2771}]},
          "mark": {"type": "rule", "color": "#c80000", "strokeWidth": 1},
          "encoding": {
            "y": {"field": "price", "type": "quantitative", "title": null}
          }
        },
        {
          "data": {"values": [{"price": 1.2771}]},
          "mark": {"type": "rect", "color": "#c80000"},
          "encoding": {
            "x": {"datum": 153.46},
            "x2": {"datum": 158.25},
            "y": {"datum": 1.27727},
            "y2": {"datum": 1.27689}
          }
        },
        {
          "data": {"values": [{"price": 1.2771}]},
          "mark": {"type": "text", "color": "white", "align": "left", "baseline": "middle", "font": "Liberation Sans", "fontSize": 9},
          "encoding": {
            "x": {"datum": 154.0},
            "y": {"field": "price", "type": "quantitative", "title": null},
            "text": {"field": "price", "type": "quantitative", "format": ".5f"}
          }
        }
      ]
    },
    {
      "width": 1226,
      "height": 101,
      "title": {"text": "AO 0.001913"},
      "data": {"name": "bars"},
      "transform": [{"filter": "isValid(datum.ao)"}],
      "mark": {"type": "bar", "orient": "vertical", "size": 4, "clip": true},
      "encoding": {
        "x": {"field": "i", "type": "quantitative", "title": null,
              "scale": {"domain": [-0.0375, 153.2125], "nice": false, "zero": false},
              "axis": {"values": [4,8,12,16,20,24,28,32,36,40,44,48,52,56,60,64,68,72,76,80,84,88,92,96,100,104,108,112,116,120,124,128,132,136,140,144,148,152], "tickCount": 60, "grid": true, "labels": false, "ticks": false, "domain": false}},
        "y": {"field": "ao", "type": "quantitative", "title": null,
              "scale": {"domain": [-0.006052, 0.005198], "nice": false, "zero": false},
              "axis": {"orient": "right", "values": [0.005198, 0, -0.006052], "tickCount": 10, "format": ".6f", "labelFlush": true, "labelOverlap": false, "grid": true, "tickSize": 4, "labelPadding": 1, "domain": false}},
        "y2": {"datum": 0},
        "color": {"field": "aot", "type": "nominal", "scale": {"domain": ["up", "down"], "range": ["#008000", "#ff0000"]}, "legend": null}
      }
    },
    {
      "width": 1226,
      "height": 100,
      "title": {"text": "AC 0.0006788"},
      "data": {"name": "bars"},
      "transform": [{"filter": "isValid(datum.ac)"}],
      "mark": {"type": "bar", "orient": "vertical", "size": 4, "clip": true},
      "encoding": {
        "x": {"field": "i", "type": "quantitative", "title": null,
              "scale": {"domain": [-0.0375, 153.2125], "nice": false, "zero": false},
              "axis": {"values": [4,8,12,16,20,24,28,32,36,40,44,48,52,56,60,64,68,72,76,80,84,88,92,96,100,104,108,112,116,120,124,128,132,136,140,144,148,152], "tickCount": 60, "grid": true, "labels": false, "ticks": false, "domain": false}},
        "y": {"field": "ac", "type": "quantitative", "title": null,
              "scale": {"domain": [-0.0025049, 0.0022523], "nice": false, "zero": false},
              "axis": {"orient": "right", "values": [0.0022523, 0, -0.0025049], "tickCount": 10, "format": ".7f", "labelFlush": true, "labelOverlap": false, "grid": true, "tickSize": 4, "labelPadding": 1, "domain": false}},
        "y2": {"datum": 0},
        "color": {"field": "act", "type": "nominal", "scale": {"domain": ["up", "down"], "range": ["#008000", "#ff0000"]}, "legend": null}
      }
    },
    {
      "width": 1226,
      "height": 83,
      "title": {"text": "Gator(13,8,5) 0.000763 0.000000"},
      "data": {"name": "bars"},
      "encoding": {
        "x": {"field": "i", "type": "quantitative", "title": null,
              "scale": {"domain": [-0.0375, 153.2125], "nice": false, "zero": false},
              "axis": {
                "values": [0,4,8,12,16,20,24,28,32,36,40,44,48,52,56,60,64,68,72,76,80,84,88,92,96,100,104,108,112,116,120,124,128,132,136,140,144,148,152],
                "tickCount": 60,
                "grid": true, "domain": false, "tickSize": 4, "labelPadding": 0, "labelFontSize": 9.5,
                "labelAlign": "left", "labelBaseline": "top", "labelFlush": false, "labelOverlap": false, "labelBound": false,
                "gridOpacity": {"condition": {"test": "datum.value === 0", "value": 0}, "value": 1},
                "tickOpacity": {"condition": {"test": "datum.value % 8 !== 0 || datum.value > 136", "value": 0}, "value": 1},
                "labelExpr": "datum.value % 8 === 0 && datum.value <= 136 ? ['29 Nov 2024','2 Dec 06:00','2 Dec 14:00','2 Dec 22:00','3 Dec 06:00','3 Dec 14:00','3 Dec 22:00','4 Dec 06:00','4 Dec 14:00','4 Dec 22:00','5 Dec 06:00','5 Dec 14:00','5 Dec 22:00','6 Dec 06:00','6 Dec 14:00','6 Dec 22:00','9 Dec 06:00','9 Dec 14:00'][datum.value / 8] : ''"
              }}
      },
      "layer": [
        {
          "transform": [{"filter": "isValid(datum.gu)"}],
          "mark": {"type": "bar", "orient": "vertical", "size": 4, "clip": true},
          "encoding": {
            "y": {"field": "gu", "type": "quantitative", "title": null,
                  "scale": {"domain": [-0.002911, 0.002589], "nice": false, "zero": false},
                  "axis": {"orient": "right", "values": [0.002589, 0, -0.002911], "tickCount": 10, "format": ".6f", "labelFlush": true, "labelOverlap": false, "grid": true, "tickSize": 4, "labelPadding": 1, "domain": false}},
            "y2": {"datum": 0},
            "color": {"field": "gut", "type": "nominal", "scale": {"domain": ["up", "down"], "range": ["#008000", "#ff0000"]}, "legend": null}
          }
        },
        {
          "transform": [{"filter": "isValid(datum.gl)"}],
          "mark": {"type": "bar", "orient": "vertical", "size": 4, "clip": true},
          "encoding": {
            "y": {"field": "gl", "type": "quantitative", "title": null},
            "y2": {"datum": 0},
            "color": {"field": "glt", "type": "nominal", "legend": null}
          }
        }
      ]
    }
  ],
  "config": {
    "view": {"stroke": "black", "strokeWidth": 1},
    "font": "Liberation Sans",
    "axis": {"labelFont": "Liberation Sans", "labelFontSize": 9, "labelColor": "black", "tickColor": "black", "gridWidth": 1, "labelOverlap": false},
    "axisX": {"gridColor": "#c8a8c8", "gridDash": [4, 2]},
    "axisY": {"gridColor": "#a8aca8", "gridDash": [3, 3]},
    "title": {"anchor": "start", "font": "Liberation Sans", "fontSize": 9.5, "fontWeight": "normal", "color": "black", "offset": -15, "dx": 4}
  }
}
